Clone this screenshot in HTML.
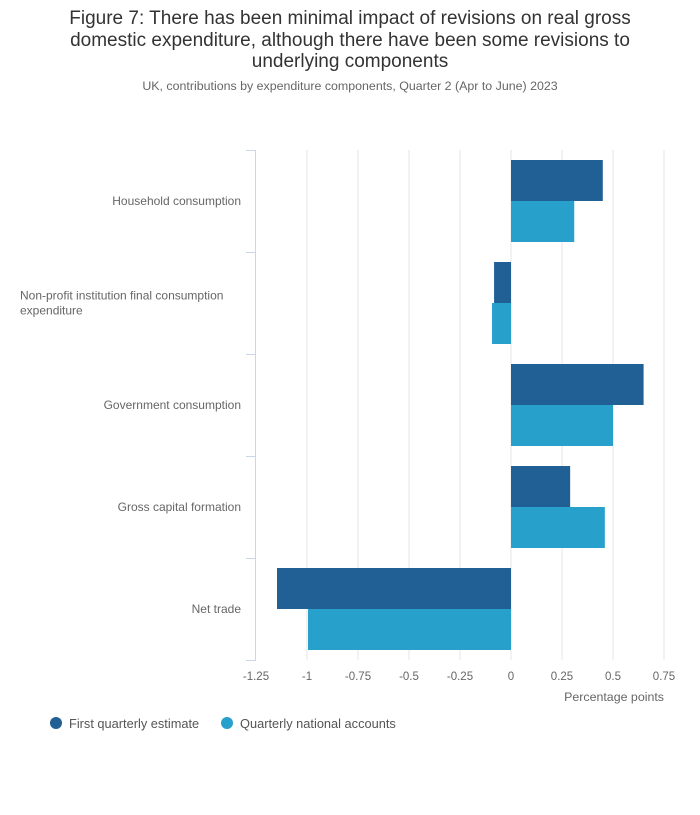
<!DOCTYPE html>
<html><head><meta charset="utf-8"><style>
body{margin:0;background:#fff;width:700px;height:810px;overflow:hidden;font-family:"Liberation Sans","DejaVu Sans",sans-serif}
</style></head><body>
<svg width="700" height="810" xmlns="http://www.w3.org/2000/svg">
<text x="350" y="24" font-size="19" fill="#333" text-anchor="middle">Figure 7: There has been minimal impact of revisions on real gross</text>
<text x="350" y="46" font-size="19" fill="#333" text-anchor="middle">domestic expenditure, although there have been some revisions to</text>
<text x="350" y="67" font-size="19" fill="#333" text-anchor="middle">underlying components</text>
<text x="350" y="90" font-size="12.4" fill="#666" text-anchor="middle">UK, contributions by expenditure components, Quarter 2 (Apr to June) 2023</text>
<g id="grid"></g><g id="bars"></g><g id="axes"></g>
<text x="664" y="701" font-size="12.4" fill="#666" text-anchor="end">Percentage points</text>
<g>
<circle cx="56" cy="723" r="6" fill="#206095"/>
<text x="69" y="728" font-size="12.8" fill="#555">First quarterly estimate</text>
<circle cx="227" cy="723" r="6" fill="#27a0cc"/>
<text x="240" y="728" font-size="12.8" fill="#555">Quarterly national accounts</text>
</g>
</svg>
<script>
const categories=[["Household consumption"],["Non-profit institution final consumption","expenditure"],["Government consumption"],["Gross capital formation"],["Net trade"]];
const firstEstimate=[0.45,-0.083,0.65,0.29,-1.147];
const qnaEstimate=[0.31,-0.093,0.5,0.46,-0.995];
const ticks=[-1.25,-1,-0.75,-0.5,-0.25,0,0.25,0.5,0.75];
const tickLabels=["-1.25","-1","-0.75","-0.5","-0.25","0","0.25","0.5","0.75"];
const NS="http://www.w3.org/2000/svg";
const x=v=>511+v*204;
const top0=150,bandH=102;
function mk(tag,attrs,parent){const e=document.createElementNS(NS,tag);for(const k in attrs)e.setAttribute(k,attrs[k]);document.getElementById(parent).appendChild(e);return e;}
ticks.forEach((t,i)=>{
 if(i>0){const g=mk('line',{x1:x(t),x2:x(t),y1:top0,y2:top0+bandH*5,stroke:'#e6e6e6','stroke-width':1},'grid');
 
 }
 const l=mk('text',{x:x(t),y:680,'font-size':11.5,fill:'#666','text-anchor':'middle'},'axes');l.textContent=tickLabels[i];
 
 
});
const ax=mk('line',{x1:255.5,x2:255.5,y1:top0,y2:top0+bandH*5,stroke:'#ccd6eb'},'axes');


for(let i=0;i<=5;i++){const tk=mk('line',{x1:246,x2:256,y1:top0+bandH*i+0.5,y2:top0+bandH*i+0.5,stroke:'#ccd6eb'},'axes');
 
 }
categories.forEach((c,i)=>{
 const cy=top0+bandH*i+bandH/2;
 const ln=c.length;
 c.forEach((s,j)=>{
  const ml=ln>1;
  const t=mk('text',{x:ml?20:241,y:cy+4+(j-(ln-1)/2)*15,'font-size':12,fill:'#666','text-anchor':ml?'start':'end'},'axes');t.textContent=s;
  
  
 });
 [[firstEstimate[i],'#206095',10],[qnaEstimate[i],'#27a0cc',51]].forEach(([v,col,off],k)=>{
  const r=mk('rect',{x:Math.min(x(0),x(v)),y:top0+bandH*i+off,width:Math.abs(x(v)-x(0)),height:41,fill:col},'bars');
  
  
 });
});
</script>
</body></html>
